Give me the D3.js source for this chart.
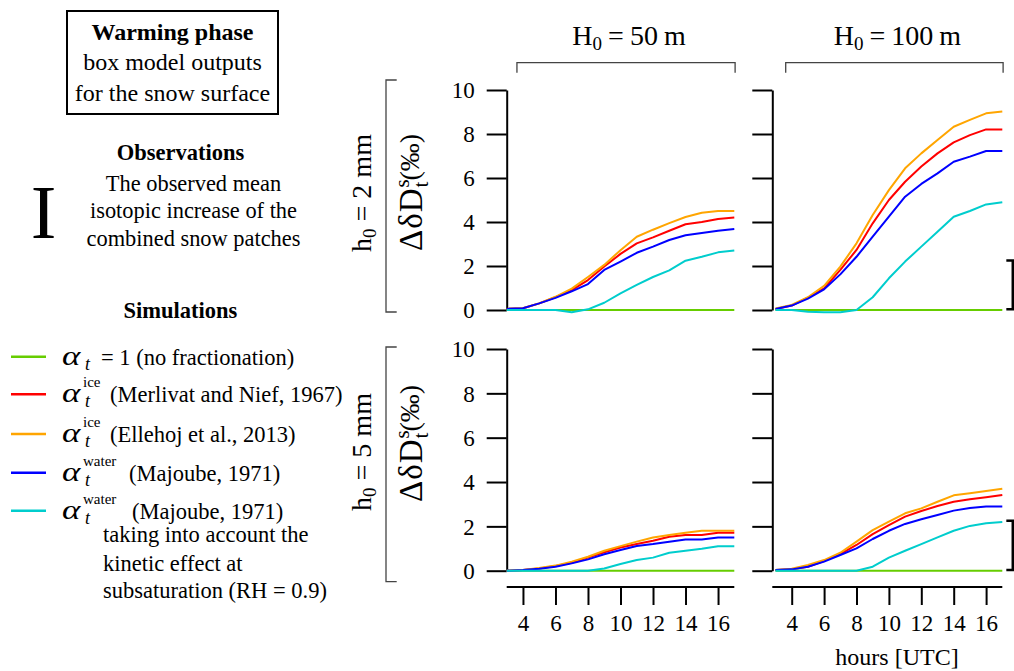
<!DOCTYPE html>
<html><head><meta charset="utf-8">
<script src="https://cdn.jsdelivr.net/npm/d3@7"></script>
<style>
html,body{margin:0;padding:0;background:#fff;}
svg{display:block;}
text{font-family:"Liberation Serif","Times New Roman",serif;fill:#000;}
</style></head>
<body>
<svg id="chart" width="1014" height="671"></svg>
<script>
// ---------------- DATA ----------------
const hours = [3,4,5,6,7,8,9,10,11,12,13,14,15,16,17];
const xTicks = [4,6,8,10,12,14,16];
const yTicks = [0,2,4,6,8,10];
const columnTitles = ["50", "100"];       // H0 (m)
const rowTitles = ["2", "5"];             // h0 (mm)
const seriesNames = ["green","red","orange","blue","cyan"];
const seriesColors = ["#66CD00","#FF0000","#FFA500","#0000FF","#00CDCD"];

// H0 = 50 m, h0 = 2 mm
const a_green  = [0,0,0,0,0,0,0,0,0,0,0,0,0,0,0];
const a_red    = [0.05,0.08,0.3,0.58,0.9,1.36,1.98,2.55,3.03,3.3,3.6,3.9,4.0,4.14,4.2];
const a_orange = [0.05,0.08,0.3,0.6,0.97,1.5,2.05,2.72,3.33,3.65,3.95,4.23,4.42,4.5,4.5];
const a_blue   = [0.05,0.08,0.3,0.55,0.85,1.18,1.82,2.2,2.6,2.88,3.18,3.4,3.5,3.6,3.68];
const a_cyan   = [0,0,0,0,-0.1,0.03,0.33,0.76,1.14,1.5,1.8,2.24,2.42,2.62,2.7];
// H0 = 100 m, h0 = 2 mm
const b_green  = [0,0,0,0,0,0,0,0,0,0,0,0,0,0,0];
const b_red    = [0.05,0.2,0.56,0.98,1.82,2.73,3.94,5.0,5.83,6.52,7.12,7.62,7.95,8.21,8.21];
const b_orange = [0.07,0.23,0.58,1.1,1.97,3.03,4.32,5.45,6.44,7.12,7.73,8.33,8.64,8.94,9.02];
const b_blue   = [0.05,0.2,0.52,0.94,1.62,2.42,3.33,4.24,5.15,5.73,6.21,6.74,6.97,7.23,7.23];
const b_cyan   = [0,0,-0.08,-0.1,-0.1,0,0.58,1.44,2.2,2.88,3.56,4.24,4.5,4.8,4.9];
// H0 = 50 m, h0 = 5 mm
const c_green  = [0,0,0,0,0,0,0,0,0,0,0,0,0,0,0];
const c_red    = [0,0.03,0.1,0.21,0.36,0.59,0.83,1.05,1.2,1.35,1.53,1.61,1.61,1.71,1.71];
const c_orange = [0,0.03,0.12,0.23,0.41,0.63,0.9,1.11,1.31,1.5,1.61,1.71,1.8,1.8,1.8];
const c_blue   = [0,0.03,0.09,0.18,0.33,0.51,0.74,0.93,1.11,1.2,1.31,1.41,1.41,1.5,1.5];
const c_cyan   = [0,0,0,0,0,0,0.1,0.3,0.48,0.59,0.81,0.9,0.99,1.1,1.1];
// H0 = 100 m, h0 = 5 mm
const d_green  = [0,0,0,0,0,0,0,0,0,0,0,0,0,0,0];
const d_red    = [0.03,0.06,0.18,0.44,0.75,1.16,1.65,2.06,2.44,2.69,2.92,3.11,3.22,3.31,3.41];
const d_orange = [0.03,0.09,0.26,0.48,0.81,1.31,1.83,2.21,2.59,2.81,3.11,3.4,3.49,3.59,3.7];
const d_blue   = [0.03,0.06,0.18,0.41,0.71,1.01,1.43,1.8,2.11,2.32,2.51,2.71,2.83,2.9,2.9];
const d_cyan   = [0,0,0,0,0,0,0.18,0.59,0.9,1.2,1.5,1.8,2.02,2.14,2.2];

// observed mean isotopic increase (range), H0 = 100 m column
const obsRange = [0, 2.25];

const legendLabels = ["(no fractionation)","(Merlivat and Nief, 1967)","(Ellehoj et al., 2013)","(Majoube, 1971)","(Majoube, 1971)"];
const legendSup = ["", "ice", "ice", "water", "water"];

// ---------------- DRAW ----------------
const svg = d3.select("#chart");
svg.append("rect").attr("width",1014).attr("height",671).attr("fill","#fff");

const panels = [
  {col:0,row:0,data:[a_green,a_red,a_orange,a_blue,a_cyan]},
  {col:1,row:0,data:[b_green,b_red,b_orange,b_blue,b_cyan]},
  {col:0,row:1,data:[c_green,c_red,c_orange,c_blue,c_cyan]},
  {col:1,row:1,data:[d_green,d_red,d_orange,d_blue,d_cyan]}
];
const colX = [[506.7,734.3],[775.5,1002.3]];
const colAxisX = [506.7, 772.3];
const rowY = [[310,90],[570.7,349]];

const xs = colX.map(r => d3.scaleLinear().domain([3,17]).range(r));
const ys = rowY.map(r => d3.scaleLinear().domain([0,10]).range(r));

// rich text helper: parts placed sequentially, measured widths
function rich(parent, x, y, parts, anchor, rotate){
  const g = parent.append("g").attr("transform", `translate(${x},${y})` + (rotate? ` rotate(${rotate})`:""));
  let cx = 0; const els = [];
  parts.forEach(p => {
    const t = g.append("text").text(p.t)
      .attr("font-size", p.size)
      .attr("font-weight", p.bold? "bold":"normal")
      .attr("font-style", p.italic? "italic":"normal")
      .attr("y", p.dy || 0);
    if (p.ls) t.attr("letter-spacing", p.ls);
    cx += (p.dx || 0);
    t.attr("x", cx);
    const w = t.node().getComputedTextLength();
    els.push(t);
    if (!p.stack) cx += w;
  });
  if (anchor === "middle") els.forEach(t => t.attr("x", +t.attr("x") - cx/2));
  return g;
}

panels.forEach(p => {
  const x = xs[p.col], y = ys[p.row];
  const g = svg.append("g");
  // y axis
  const yAx = d3.axisLeft(y).tickValues(yTicks).tickSize(20).tickSizeOuter(0).tickPadding(12)
    .tickFormat(p.col === 0 ? d3.format("d") : () => "");
  const ya = g.append("g").attr("transform", `translate(${colAxisX[p.col]},0)`).call(yAx);
  ya.selectAll("path,line").attr("stroke","#000").attr("stroke-width",2);
  ya.selectAll("text").attr("font-size",23).attr("font-family","Liberation Serif").attr("dy","0.34em");
  // lines
  const line = d3.line().x((d,i)=>x(hours[i])).y(d=>y(d));
  p.data.forEach((arr, si) => {
    g.append("path").datum(arr).attr("d", line).attr("fill","none")
      .attr("stroke", seriesColors[si]).attr("stroke-width", 2).attr("stroke-linejoin","round");
  });
  // x axis on bottom row
  if (p.row === 1) {
    const y0 = 587;
    const xAx = d3.axisBottom(x).tickValues(xTicks).tickSize(18).tickSizeOuter(0).tickFormat(d3.format("d"));
    const xa = g.append("g").attr("transform", `translate(0,${y0})`).call(xAx);
    xa.select(".domain").remove();
    xa.selectAll("line").attr("stroke","#000").attr("stroke-width",2);
    xa.selectAll("text").attr("font-size",23).attr("font-family","Liberation Serif").attr("y",44).attr("dy","0");
    g.append("line").attr("x1", colAxisX[p.col]).attr("x2", x(17)).attr("y1", y0).attr("y2", y0)
      .attr("stroke","#000").attr("stroke-width",2);
  }
  // observation bracket (right column)
  if (p.col === 1) {
    const bx = x(17.65), yl = y(obsRange[0]) - 0.7, yh = y(obsRange[1]);
    g.append("path").attr("d", `M${bx-6.5},${yh}H${bx}V${yl}H${bx-6.5}`)
      .attr("fill","none").attr("stroke","#000").attr("stroke-width",2.6);
  }
});

// column header brackets and titles
[0,1].forEach(c => {
  const x = xs[c];
  const x1 = x(3.63), x2 = x(17.05);
  svg.append("path").attr("d", `M${x1},72.7V62.7H${x2}V72.7`).attr("fill","none").attr("stroke","#444").attr("stroke-width",1.3);
  rich(svg, (x1+x2)/2 + 3, 45, [
    {t:"H", size:28},
    {t:"0", size:19, dy:5},
    {t:"=", size:28, dx:6},
    {t:columnTitles[c], size:28, dx:6},
    {t:"m", size:28, dx:6}
  ], "middle");
});

// row brackets and titles
[0,1].forEach(r => {
  const yTop = r === 0 ? 80 : 347, yBot = r === 0 ? 312 : 581.7;
  svg.append("path").attr("d", `M396.7,${yTop}H386V${yBot}H396.7`).attr("fill","none").attr("stroke","#444").attr("stroke-width",1.3);
  rich(svg, 370.5, r === 0 ? 193 : 452, [
    {t:"h", size:28},
    {t:"0", size:19, dy:5},
    {t:"=", size:28, dx:7},
    {t:rowTitles[r], size:28, dx:7},
    {t:"mm", size:28, dx:7}
  ], "middle", -90);
  // y axis title
  rich(svg, 422, r === 0 ? 251 : 502, [
    {t:"ΔδD", size:33, ls:1},
    {t:"s", size:21, dy:-13, stack:true, dx:0},
    {t:"t", size:21, dy:6, dx:0},
    {t:"(‰)", size:28, dy:-3, dx:1}
  ], "start", -90);
});

// x axis title
svg.append("text").attr("x", 897).attr("y", 665).attr("text-anchor","middle").attr("font-size",24).text("hours [UTC]");

// ---------------- LEFT LEGEND ----------------
svg.append("rect").attr("x",67).attr("y",11).attr("width",211).attr("height",103).attr("fill","none").attr("stroke","#000").attr("stroke-width",2);
svg.append("text").attr("x",172.5).attr("y",40).attr("text-anchor","middle").attr("font-size",24).attr("font-weight","bold").text("Warming phase");
svg.append("text").attr("x",172.5).attr("y",70).attr("text-anchor","middle").attr("font-size",24).text("box model outputs");
svg.append("text").attr("x",172.5).attr("y",101).attr("text-anchor","middle").attr("font-size",24).text("for the snow surface");

svg.append("text").attr("x",180.5).attr("y",160).attr("text-anchor","middle").attr("font-size",22.5).attr("font-weight","bold").text("Observations");
[["The observed mean",190.7],["isotopic increase of the",218.3],["combined snow patches",245.7]].forEach(d=>{
  svg.append("text").attr("x",193.5).attr("y",d[1]).attr("text-anchor","middle").attr("font-size",22.4).text(d[0]);
});
svg.append("text").attr("x",43.5).attr("y",238).attr("text-anchor","middle").attr("font-size",77).text("I");

svg.append("text").attr("x",180.5).attr("y",318).attr("text-anchor","middle").attr("font-size",22.5).attr("font-weight","bold").text("Simulations");

const legY = [356.7, 394.3, 434, 472.7, 510.7];
seriesNames.forEach((s,i) => {
  const ly = legY[i];
  svg.append("line").attr("x1",11).attr("x2",46).attr("y1",ly).attr("y2",ly).attr("stroke",seriesColors[i]).attr("stroke-width",2.5);
  svg.append("text").attr("transform",`translate(62,${ly+8}) scale(1.25,1)`).attr("font-size",28).attr("font-style","italic").text("α");
  svg.append("text").attr("x",85).attr("y",ly+13).attr("font-size",18).attr("font-style","italic").text("t");
  if (i === 0) {
    svg.append("text").attr("x",101).attr("y",ly+8).attr("font-size",22.5).text("= 1 " + legendLabels[i]);
  } else {
    svg.append("text").attr("x",83).attr("y",ly - 7.2).attr("font-size",15).text(legendSup[i]);
    const lx = legendSup[i]==="ice" ? 110 : (i===3 ? 129 : 132);
    svg.append("text").attr("x",lx).attr("y",ly+8).attr("font-size",22.5).text(legendLabels[i]);
  }
});
[["taking into account the",542],["kinetic effect at",570.5],["subsaturation (RH = 0.9)",598]].forEach(d=>{
  svg.append("text").attr("x",103).attr("y",d[1]).attr("font-size",22.5).text(d[0]);
});
</script>
</body></html>
